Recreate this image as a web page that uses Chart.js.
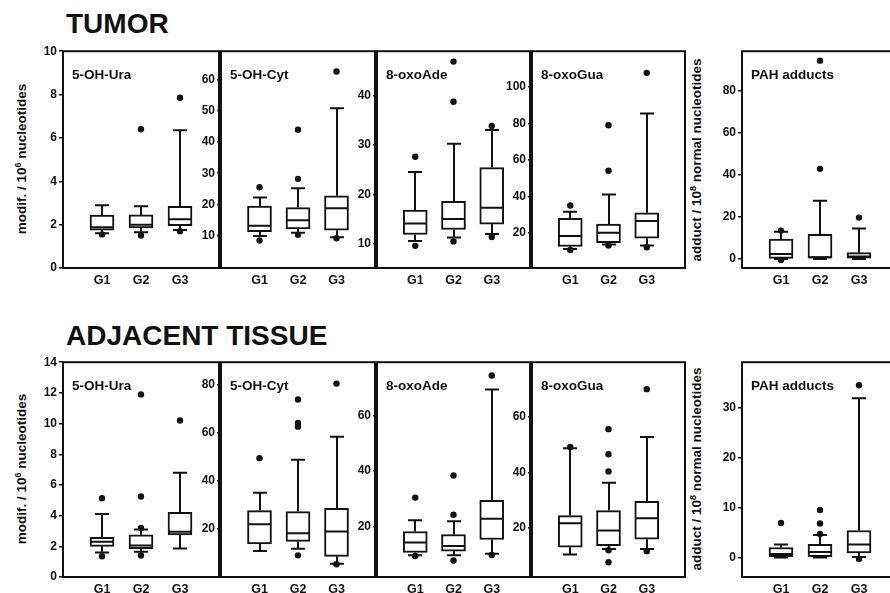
<!DOCTYPE html>
<html><head><meta charset="utf-8">
<script src="https://cdn.jsdelivr.net/npm/chart.js@4/dist/chart.umd.min.js"></script>
<style>
html,body{margin:0;padding:0;background:#fff;width:890px;height:593px;overflow:hidden;position:relative;font-family:'Liberation Sans',Arial,sans-serif;}
canvas{position:absolute;}
.h{position:absolute;font-weight:bold;font-size:28px;line-height:28px;white-space:nowrap;color:#111;}
.yt{position:absolute;font-weight:bold;font-size:13.5px;line-height:16px;white-space:nowrap;transform:translate(-50%,-50%) rotate(-90deg);color:#111;-webkit-font-smoothing:antialiased;}
.yt sup{font-size:9px;line-height:0;vertical-align:5px;}
</style></head><body>
<div class="h" style="left:66px;top:10px">TUMOR</div>
<div class="h" style="left:66px;top:322px">ADJACENT TISSUE</div>
<div class="yt" style="left:22px;top:159px">modif. / 10<sup>6</sup> nucleotides</div>
<div class="yt" style="left:22px;top:469px">modif. / 10<sup>6</sup> nucleotides</div>
<div class="yt" style="left:697px;top:160px">adduct / 10<sup>8</sup> normal nucleotides</div>
<div class="yt" style="left:697px;top:469px">adduct / 10<sup>8</sup> normal nucleotides</div>
<script>
// ---------- DATA ----------
const groups = ['G1', 'G2', 'G3'];
// five-number summaries per group: [whiskerLow, Q1, median, Q3, whiskerHigh]
// TUMOR
const tumorUra   = [[1.6,1.75,1.88,2.44,2.9],[1.65,1.85,2.0,2.45,2.85],[1.75,1.95,2.25,2.85,6.35]];
const tumorUraOut = [[1.55],[6.4,1.5],[7.85,1.7]];
const tumorCyt   = [[9.9,11.3,13.2,19.5,22.2],[11,12.2,15,19,25.2],[9.5,11.8,18.8,22.8,50.8]];
const tumorCytOut = [[25.5,8.5],[43.9,28.2,10.3],[62.5,9.2]];
const tumorAde   = [[10.6,11.9,14.1,16.8,24.5],[11.3,12.9,15,18.6,30.2],[12,14,17.3,25.4,33]];
const tumorAdeOut = [[27.6,9.6],[46.8,38.7,10.5],[33.8,11.4]];
const tumorGua   = [[11,12.4,18.2,27.9,31.5],[13.5,14.5,20,24.7,41],[13,17,26.4,30.9,85.5]];
const tumorGuaOut = [[34.9,10.5],[79,54,13],[107.8,12]];
const tumorPah   = [[0,0.3,2.4,9.5,13],[0,0,0.8,11.7,27.7],[0,0,1.2,3,14.5]];
const tumorPahOut = [[13.5,-0.5],[94.4,42.9],[19.7]];
// ADJACENT TISSUE
const adjUra   = [[1.6,2.0,2.3,2.58,4.1],[1.65,1.85,2.05,2.75,3.1],[1.85,2.75,2.95,4.22,6.8]];
const adjUraOut = [[5.13,1.35],[11.9,5.25,3.2,1.4],[10.2]];
const adjCyt   = [[10.8,13.8,21.9,27.6,35],[11.7,14.8,18.2,27.2,48.7],[5.5,8.6,18.9,28.6,58.3]];
const adjCytOut = [[49.4],[73.8,64,62.5,9],[80.4,5.3]];
const adjAde   = [[9.5,10.5,14.1,18.1,22.2],[9.5,11,12.8,17,21.8],[10,15.2,22.7,29.4,69.6]];
const adjAdeOut = [[30.4,9.2],[38.4,24.2,7.6],[74.7,9.6]];
const adjGua   = [[10.5,13.1,21.7,24.5,48.7],[12.5,13.7,19.1,26.3,36.3],[12.5,16,23.5,29.6,52.8]];
const adjGuaOut = [[49.2],[55.6,46.6,40.4,12,7.7],[70,11.7]];
const adjPah   = [[0,0,0.7,2.0,2.6],[0,0,1.1,2.65,4.5],[0.1,0.9,2.6,5.4,31.9]];
const adjPahOut = [[6.9],[9.5,6.8,4.7],[34.5,-0.3]];
// tick labels per panel
const ticksTumorUra = [0,2,4,6,8,10];
const ticksTumorCyt = [10,20,30,40,50,60];
const ticksTumorAde = [10,20,30,40];
const ticksTumorGua = [20,40,60,80,100];
const ticksTumorPah = [0,20,40,60,80];
const ticksAdjUra = [0,2,4,6,8,10,12,14];
const ticksAdjCyt = [20,40,60,80];
const ticksAdjAde = [20,40,60];
const ticksAdjGua = [20,40,60];
const ticksAdjPah = [0,10,20,30];
// panel titles
const titles = ['5-OH-Ura','5-OH-Cyt','8-oxoAde','8-oxoGua','PAH adducts'];

// ---------- LAYOUT ----------
const AX = 45, PT = 8, BH = 26;
const topRow = {T:50, B:268}, botRow = {T:361, B:577};
const cols = [[63,221],[221,377],[377,532],[532,687],[742,900]];

const panels = [
  {row:topRow, col:0, stats:tumorUra, out:tumorUraOut, ticks:ticksTumorUra, min:0, max:10, label:titles[0]},
  {row:topRow, col:1, stats:tumorCyt, out:tumorCytOut, ticks:ticksTumorCyt, min:-0.3, max:69, label:titles[1]},
  {row:topRow, col:2, stats:tumorAde, out:tumorAdeOut, ticks:ticksTumorAde, min:5.13, max:48.9, label:titles[2]},
  {row:topRow, col:3, stats:tumorGua, out:tumorGuaOut, ticks:ticksTumorGua, min:0.6, max:119.7, label:titles[3]},
  {row:topRow, col:4, stats:tumorPah, out:tumorPahOut, ticks:ticksTumorPah, min:-4.3, max:98.9, label:titles[4]},
  {row:botRow, col:0, stats:adjUra, out:adjUraOut, ticks:ticksAdjUra, min:0, max:14, label:titles[0]},
  {row:botRow, col:1, stats:adjCyt, out:adjCytOut, ticks:ticksAdjCyt, min:0, max:89.3, label:titles[1]},
  {row:botRow, col:2, stats:adjAde, out:adjAdeOut, ticks:ticksAdjAde, min:1.6, max:79.5, label:titles[2]},
  {row:botRow, col:3, stats:adjGua, out:adjGuaOut, ticks:ticksAdjGua, min:2.4, max:79.7, label:titles[3]},
  {row:botRow, col:4, stats:adjPah, out:adjPahOut, ticks:ticksAdjPah, min:-3.9, max:39.1, label:titles[4]}
];

Chart.defaults.font.family = "'Liberation Sans', Arial, sans-serif";
Chart.defaults.color = '#111';

function makeBoxPlugin(p){
  return {
    id:'boxplot',
    afterDatasetsDraw(chart){
      const ctx = chart.ctx, a = chart.chartArea, x = chart.scales.x, y = chart.scales.y;
      ctx.save();
      ctx.strokeStyle = '#111'; ctx.lineWidth = 2; ctx.lineCap = 'butt';
      const bw = 24, cw = 14;
      p.stats.forEach((s, i) => {
        const px = Math.round(x.getPixelForValue(i + 1));
        const [lo, q1, md, q3, hi] = s.map(v => y.getPixelForValue(v));
        ctx.beginPath();
        ctx.moveTo(px, q3); ctx.lineTo(px, hi);
        ctx.moveTo(px - cw/2, hi); ctx.lineTo(px + cw/2, hi);
        ctx.moveTo(px, q1); ctx.lineTo(px, lo);
        ctx.moveTo(px - cw/2, lo); ctx.lineTo(px + cw/2, lo);
        ctx.moveTo(px - bw/2 + 1, md); ctx.lineTo(px + bw/2 - 1, md);
        ctx.stroke();
      });
      ctx.lineWidth = 2;
      ctx.strokeRect(a.left, a.top, a.right - a.left, a.bottom - a.top);
      ctx.fillStyle = '#111';
      ctx.font = "bold 13.5px 'Liberation Sans', Arial, sans-serif";
      ctx.textBaseline = 'alphabetic';
      ctx.fillText(p.label, a.left + 9, a.top + 28);
      ctx.restore();
    }
  };
}

function makePanel(p){
  const L = cols[p.col][0], R = cols[p.col][1], T = p.row.T, B = p.row.B;
  const W = AX + (R - L) + 2, H = PT + (B - T) + BH;
  const c = document.createElement('canvas');
  c.width = W; c.height = H;
  c.style.left = (L - AX) + 'px'; c.style.top = (T - PT) + 'px';
  document.body.appendChild(c);
  new Chart(c, {
    type: 'bar',
    data: { datasets: [
      { type:'bar', data: p.stats.map((s, i) => ({x: i + 1, y: [s[1], s[3]]})),
        backgroundColor:'#fff', borderColor:'#111', borderWidth:2, borderSkipped:false,
        barThickness:24, order:2 },
      { type:'scatter', data: p.out.flatMap((arr, i) => arr.map(v => ({x: i + 1, y: v}))),
        pointRadius:3.2, pointBackgroundColor:'#111', pointBorderWidth:0, order:1 }
    ]},
    options: {
      responsive:false, animation:false, events:[],
      layout:{padding:{top:PT, right:2, left:0, bottom:0}},
      plugins:{legend:{display:false}, tooltip:{enabled:false}},
      scales:{
        x:{ type:'linear', min:0, max:4, offset:false,
            afterBuildTicks: s => { s.ticks = groups.map((g, i) => ({value: i + 1})); },
            afterFit: s => { s.height = BH; },
            grid:{display:false, drawTicks:false, offset:false}, border:{display:false},
            ticks:{padding:5, autoSkip:false, maxRotation:0, callback: v => groups[v - 1],
                   font:{size:12.5, weight:'bold'}, color:'#111'} },
        y:{ type:'linear', min:p.min, max:p.max,
            afterBuildTicks: s => { s.ticks = p.ticks.map(v => ({value: v})); },
            afterFit: s => { s.width = AX; },
            grid:{drawOnChartArea:false, drawTicks:true, tickLength:4, color:'#111', lineWidth:1.5},
            border:{display:false},
            ticks:{padding:2, autoSkip:false, font:{size:12, weight:'bold'}, color:'#111'} }
      }
    },
    plugins:[makeBoxPlugin(p)]
  });
}

panels.forEach(makePanel);
</script>
</body></html>
